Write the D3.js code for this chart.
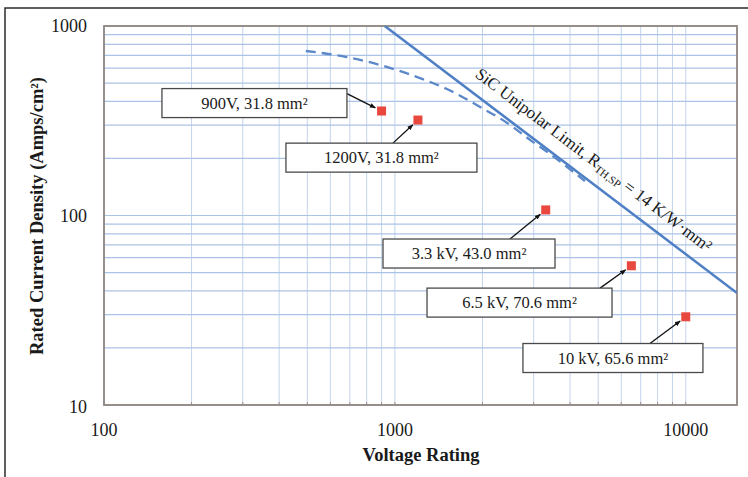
<!DOCTYPE html>
<html>
<head>
<meta charset="utf-8">
<script src="https://cdn.jsdelivr.net/npm/d3@7"></script>
<style>
  html, body { margin: 0; padding: 0; background: #fff; }
  svg { display: block; }
  text { font-family: "Liberation Serif", "Times New Roman", serif; fill: #1a1a1a; }
</style>
</head>
<body>
<div id="chart"></div>
<script>
// ---- Data ----
const xDomain = [100, 15000];
const yDomain = [10, 1000];
const xTickLabels = [100, 1000, 10000];
const yTickLabels = [10, 100, 1000];

// SiC unipolar limit (solid line) endpoints, [V, J]
const unipolarLimit = [[923, 1000], [15000, 39]];
// Dashed curve, [V, J]
const dashedCurve = [[494, 738], [683, 686], [888, 623], [1220, 531], [1510, 465],
                     [1963, 374], [2432, 308], [2923, 250], [3344, 216], [4500, 152]];
// Device points
const deviceVoltage = [900, 1200, 3300, 6500, 10000];
const deviceDensity = [356, 319, 107, 54.3, 29.2];
const deviceLabels = ["900V, 31.8 mm\u00B2", "1200V, 31.8 mm\u00B2", "3.3 kV, 43.0 mm\u00B2",
                      "6.5 kV, 70.6 mm\u00B2", "10 kV, 65.6 mm\u00B2"];
// Label box centres in data space
const labelCentreV = [329, 899, 1798, 2682, 5618];
const labelCentreJ = [392, 202, 63.0, 34.7, 17.7];

const xTitle = "Voltage Rating";
const yTitle = "Rated Current Density (Amps/cm\u00B2)";

// ---- Layout ----
const W = 748, H = 477;
const m = { left: 104, right: 11, top: 26, bottom: 72 };
const svg = d3.select("#chart").append("svg").attr("width", W).attr("height", H);

const x = d3.scaleLog().domain(xDomain).range([m.left, W - m.right]);
const y = d3.scaleLog().domain(yDomain).range([H - m.bottom, m.top]);

// Outer frame (top & left)
svg.append("path").attr("d", `M5,${H} L5,8 L${W},8`).attr("fill", "none")
  .attr("stroke", "#2b2b2b").attr("stroke-width", 1.5);

function logGrid(dom) {
  const v = [];
  for (let e = Math.floor(Math.log10(dom[0])); e <= Math.ceil(Math.log10(dom[1])); e++) {
    for (let k = 1; k <= 9; k++) {
      const val = k * Math.pow(10, e);
      if (val >= dom[0] && val <= dom[1]) v.push(val);
    }
  }
  return v;
}
const gx = logGrid(xDomain), gy = logGrid(yDomain);

const grid = svg.append("g");
grid.selectAll("line.vx").data(gx).enter().append("line")
  .attr("x1", d => x(d)).attr("x2", d => x(d))
  .attr("y1", m.top).attr("y2", H - m.bottom)
  .attr("stroke", "#c3d4ec").attr("stroke-width", 1);
grid.selectAll("line.hy").data(gy).enter().append("line")
  .attr("x1", m.left).attr("x2", W - m.right)
  .attr("y1", d => y(d)).attr("y2", d => y(d))
  .attr("stroke", "#abc3e6").attr("stroke-width", 1.2);

svg.append("g").selectAll("line").data(gx).enter().append("line")
  .attr("x1", d => x(d)).attr("x2", d => x(d))
  .attr("y1", H - m.bottom - 3).attr("y2", H - m.bottom)
  .attr("stroke", "#9a918c").attr("stroke-width", 1);

svg.append("rect").attr("x", m.left).attr("y", m.top)
  .attr("width", W - m.right - m.left).attr("height", H - m.bottom - m.top)
  .attr("fill", "none").attr("stroke", "#8f8680").attr("stroke-width", 1.8);

svg.append("clipPath").attr("id", "clip").append("rect")
  .attr("x", m.left).attr("y", m.top)
  .attr("width", W - m.right - m.left).attr("height", H - m.bottom - m.top);

const lineGen = d3.line().x(d => x(d[0])).y(d => y(d[1]));
const curveGen = d3.line().x(d => x(d[0])).y(d => y(d[1])).curve(d3.curveMonotoneX);

svg.append("path").datum(dashedCurve).attr("d", curveGen)
  .attr("fill", "none").attr("stroke", "#5b88c8").attr("stroke-width", 2.3)
  .attr("stroke-dasharray", "10,6").attr("clip-path", "url(#clip)");

svg.append("path").datum(unipolarLimit).attr("d", lineGen)
  .attr("fill", "none").attr("stroke", "#4f7fc4").attr("stroke-width", 2.5)
  .attr("clip-path", "url(#clip)");

// Rotated line label
{
  const p0 = [x(unipolarLimit[0][0]), y(unipolarLimit[0][1])];
  const p1 = [x(unipolarLimit[1][0]), y(unipolarLimit[1][1])];
  const ang = Math.atan2(p1[1] - p0[1], p1[0] - p0[0]) * 180 / Math.PI;
  const cxv = 4395;
  const t = (Math.log10(cxv) - Math.log10(unipolarLimit[0][0])) /
            (Math.log10(unipolarLimit[1][0]) - Math.log10(unipolarLimit[0][0]));
  const cy = p0[1] + t * (p1[1] - p0[1]);
  const cx = x(cxv);
  const txt = svg.append("text")
    .attr("transform", `translate(${cx},${cy}) rotate(${ang}) translate(0,-14)`)
    .attr("text-anchor", "middle").attr("font-size", 17);
  txt.append("tspan").text("SiC Unipolar Limit, R");
  txt.append("tspan").attr("font-size", 11).attr("dy", 3).text("TH,SP");
  txt.append("tspan").attr("dy", -3).text(" = 14 K/W\u00B7mm\u00B2");
}

// Labels with boxes and arrows
const defs = svg.append("defs");
defs.append("marker").attr("id", "arr").attr("viewBox", "0 0 10 10")
  .attr("refX", 9).attr("refY", 5).attr("markerWidth", 6).attr("markerHeight", 6)
  .attr("markerUnits", "userSpaceOnUse")
  .attr("orient", "auto").append("path").attr("d", "M0,1 L10,5 L0,9 Z").attr("fill", "#111");

const boxW = [185, 191, 172, 185, 180];
const boxH = 29;
// arrow start offset relative to box top-left [dx, dy]
const arrowStart = [[185, 5], [107, 0], [127, 0], [173, 0], [127, 0]];
deviceLabels.forEach((lab, i) => {
  const bx = x(labelCentreV[i]), by = y(labelCentreJ[i]);
  const left = bx - boxW[i] / 2, top = by - boxH / 2;
  const px = x(deviceVoltage[i]), py = y(deviceDensity[i]);
  const sx = left + arrowStart[i][0], sy = top + arrowStart[i][1];
  const len = Math.hypot(px - sx, py - sy);
  svg.append("line").attr("x1", sx).attr("y1", sy)
    .attr("x2", px - (px - sx) * 7 / len)
    .attr("y2", py - (py - sy) * 7 / len)
    .attr("stroke", "#111").attr("stroke-width", 1.3).attr("marker-end", "url(#arr)");
  svg.append("rect").attr("x", left).attr("y", top)
    .attr("width", boxW[i]).attr("height", boxH)
    .attr("fill", "#fff").attr("stroke", "#4a4a4a").attr("stroke-width", 1.3);
  svg.append("text").attr("x", bx).attr("y", by + 5.5).attr("text-anchor", "middle")
    .attr("font-size", 16.5).text(lab);
});

// Device points
svg.append("g").selectAll("rect").data(deviceVoltage).enter().append("rect")
  .attr("x", (d) => x(d) - 4.5).attr("y", (d, i) => y(deviceDensity[i]) - 4.5)
  .attr("width", 9).attr("height", 9).attr("fill", "#e8483d");

// Tick labels
svg.append("g").selectAll("text").data(xTickLabels).enter().append("text")
  .attr("x", d => x(d)).attr("y", H - m.bottom + 31).attr("text-anchor", "middle")
  .attr("font-size", 18).text(d => d);
svg.append("g").selectAll("text").data(yTickLabels).enter().append("text")
  .attr("x", m.left - 17).attr("y", d => y(d) + 6 + (d === 10 ? 2 : 0)).attr("text-anchor", "end")
  .attr("font-size", 18).text(d => d);

// Titles
svg.append("text").attr("x", 421).attr("y", 461).attr("text-anchor", "middle")
  .attr("font-size", 18.5).attr("font-weight", "bold").text(xTitle);
svg.append("text").attr("transform", `translate(43,216) rotate(-90)`)
  .attr("text-anchor", "middle").attr("font-size", 18.5).attr("font-weight", "bold").text(yTitle);
</script>
</body>
</html>
